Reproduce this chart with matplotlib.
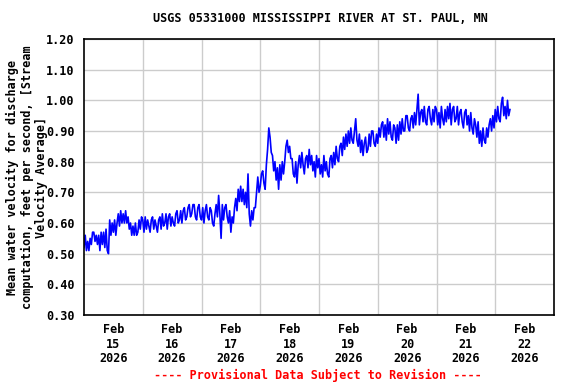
import numpy as np
import matplotlib
matplotlib.use("Agg")
import matplotlib.pyplot as plt

# 30-minute readings (hundredths of ft/s), one list per day
feb15 = [52, 56, 51, 54, 51, 55, 53, 57, 57, 54, 56, 53, 56, 51, 57, 53, 57, 52, 58, 51, 50, 61, 56, 60,
         57, 61, 56, 60, 63, 59, 64, 60, 63, 60, 64, 60, 62, 58, 60, 56, 59, 56, 60, 56, 57, 61, 58, 62]
feb16 = [61, 57, 62, 58, 61, 59, 57, 61, 62, 58, 61, 59, 57, 61, 62, 58, 63, 59, 60, 63, 58, 62, 63, 59,
         62, 60, 59, 63, 64, 60, 61, 64, 60, 64, 65, 61, 62, 65, 66, 62, 63, 66, 66, 62, 61, 65, 66, 62]
feb17 = [61, 65, 60, 64, 66, 62, 61, 65, 64, 60, 59, 63, 66, 62, 69, 63, 55, 66, 61, 65, 66, 62, 60, 64,
         57, 62, 60, 65, 68, 64, 71, 67, 72, 67, 71, 66, 70, 65, 76, 63, 59, 64, 61, 65, 65, 70, 75, 70]
feb18 = [72, 76, 77, 73, 71, 79, 84, 91, 88, 83, 82, 77, 80, 74, 78, 71, 79, 74, 80, 76, 80, 85, 87, 83,
         85, 81, 81, 76, 75, 80, 73, 79, 82, 78, 83, 79, 76, 81, 82, 78, 84, 79, 82, 77, 80, 75, 82, 78]
feb19 = [81, 76, 79, 75, 82, 77, 80, 76, 75, 81, 82, 78, 83, 79, 85, 81, 80, 85, 86, 82, 88, 84, 89, 85,
         90, 86, 91, 87, 86, 90, 94, 87, 85, 89, 83, 87, 82, 86, 88, 83, 84, 89, 85, 90, 90, 86, 85, 89]
feb20 = [86, 91, 88, 92, 93, 88, 92, 87, 94, 89, 93, 88, 87, 92, 91, 86, 92, 87, 93, 89, 94, 90, 90, 95,
         95, 91, 90, 94, 95, 91, 96, 92, 97, 102, 92, 96, 97, 93, 98, 93, 92, 97, 98, 94, 92, 97, 93, 98]
feb21 = [97, 92, 96, 91, 98, 94, 92, 97, 93, 98, 94, 99, 92, 97, 98, 93, 94, 98, 92, 96, 97, 93, 91, 96,
         97, 92, 95, 90, 96, 91, 89, 94, 92, 88, 93, 86, 90, 85, 91, 87, 86, 91, 88, 92, 94, 90, 95, 91]
feb22 = [97, 93, 98, 94, 93, 99, 101, 95, 98, 94, 100, 95, 97]

velocity = np.array(feb15 + feb16 + feb17 + feb18 + feb19 + feb20 + feb21 + feb22) / 100.0
hours = np.arange(len(velocity)) * 0.5  # hours since Feb 15 00:00

day_labels = ["Feb\n15\n2026", "Feb\n16\n2026", "Feb\n17\n2026", "Feb\n18\n2026",
              "Feb\n19\n2026", "Feb\n20\n2026", "Feb\n21\n2026", "Feb\n22\n2026"]
y_ticks = [0.30, 0.40, 0.50, 0.60, 0.70, 0.80, 0.90, 1.00, 1.10, 1.20]

plt.rcParams['font.family'] = ['DejaVu Sans Mono']
plt.rcParams['font.weight'] = 'bold'
fs = 8.5

fig = plt.figure(figsize=(5.76, 3.84), dpi=100)
ax = fig.add_axes([84 / 576, 1 - 315 / 384, 470 / 576, 276 / 384])

ax.plot(hours, velocity, color='#0000ff', lw=1.2)

ax.set_xlim(0, 192)
ax.set_ylim(0.30, 1.20)
ax.set_yticks(y_ticks)
ax.set_yticklabels([f"{v:.2f}" for v in y_ticks], fontsize=fs, fontweight='bold')
ax.set_xticks(np.arange(24, 192, 24))
ax.set_xticklabels([])
ax.set_xticks(np.arange(12, 192, 24), minor=True)
ax.set_xticklabels(day_labels, minor=True, fontsize=fs, fontweight='bold', linespacing=1.15)
ax.tick_params(axis='both', which='both', length=0)
ax.tick_params(axis='y', pad=7)
ax.tick_params(axis='x', which='minor', pad=6)
ax.grid(True, which='major', color='#cccccc', lw=1)
ax.set_axisbelow(True)
for s in ax.spines.values():
    s.set_linewidth(1.2)

fig.text(27 / 576, 1 - 177 / 384,
         "Mean water velocity for discharge\ncomputation, feet per second, [Stream\nVelocity Average]",
         rotation=90, ha='center', va='center', multialignment='center',
         fontsize=fs, fontweight='bold', linespacing=1.15)

fig.text(320 / 576, 1 - 19 / 384, "USGS 05331000 MISSISSIPPI RIVER AT ST. PAUL, MN",
         ha='center', va='center', fontsize=fs, fontweight='bold')
fig.text(318 / 576, 1 - 375 / 384, "---- Provisional Data Subject to Revision ----",
         ha='center', va='center', fontsize=fs, fontweight='bold', color='#ff0000')

fig.savefig("out.png", dpi=100)
